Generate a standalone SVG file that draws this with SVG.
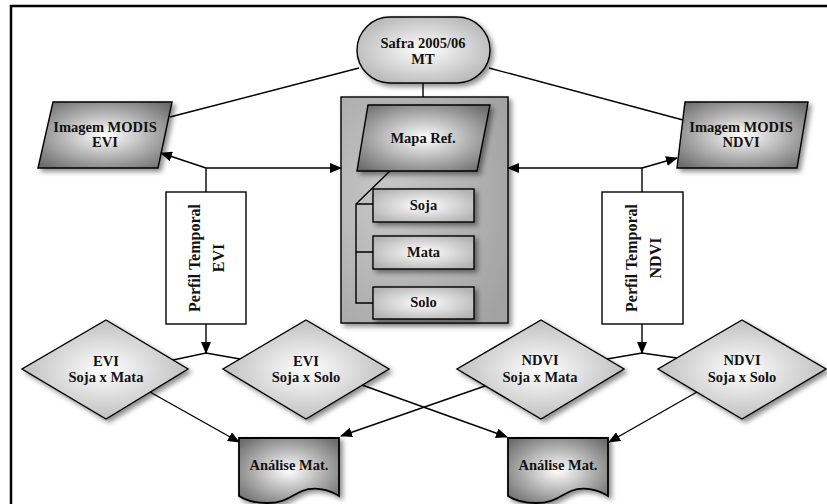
<svg xmlns="http://www.w3.org/2000/svg" width="827" height="504" viewBox="0 0 827 504">
<defs>
<style>
.t{font-family:"Liberation Serif","Times New Roman",serif;font-weight:bold;font-size:14.5px;fill:#111;text-anchor:middle}
.tr{font-family:"Liberation Serif","Times New Roman",serif;font-weight:bold;font-size:16px;fill:#111;text-anchor:middle}
.s{stroke:#000;stroke-width:1.4}
.ln{stroke:#000;stroke-width:1.4;fill:none}
.la{stroke:#000;stroke-width:1.4;fill:none;marker-end:url(#arr)}
</style>
<filter id="sh" x="-20%" y="-20%" width="150%" height="150%">
<feDropShadow dx="3" dy="3" stdDeviation="2.5" flood-color="#000" flood-opacity="0.45"/>
</filter>
<radialGradient id="gDark" cx="50%" cy="50%" r="65%">
<stop offset="0" stop-color="#ffffff"/>
<stop offset="1" stop-color="#6c6c6c"/>
</radialGradient>
<radialGradient id="gLight" cx="50%" cy="50%" r="60%">
<stop offset="0" stop-color="#ffffff"/>
<stop offset="1" stop-color="#b4b4b4"/>
</radialGradient>
<radialGradient id="gGroup" cx="30%" cy="45%" r="80%">
<stop offset="0" stop-color="#c8c8c8"/>
<stop offset="1" stop-color="#a2a2a2"/>
</radialGradient>
<marker id="arr" markerWidth="12" markerHeight="10" refX="11" refY="5" orient="auto" markerUnits="userSpaceOnUse">
<path d="M0,0 L12,5 L0,10 Z" fill="#000"/>
</marker>
</defs>
<rect width="827" height="504" fill="#fff"/>
<rect x="11" y="6" width="840" height="520" fill="none" stroke="#000" stroke-width="2.5"/>

<g id="safra">
<rect x="357" y="17" width="133" height="66" rx="33" ry="33" fill="url(#gLight)" class="s" filter="url(#sh)"/>
<text class="t" x="423" y="48">Safra 2005/06</text>
<text class="t" x="423" y="64">MT</text>
</g>

<g id="imagem-evi">
<path d="M53,102 L172,102 L158,168 L38,168 Z" fill="url(#gDark)" class="s" filter="url(#sh)"/>
<text class="t" x="105" y="132">Imagem MODIS</text>
<text class="t" x="105" y="147">EVI</text>
</g>

<g id="imagem-ndvi">
<path d="M685,102 L808,102 L797,168 L677,168 Z" fill="url(#gDark)" class="s" filter="url(#sh)"/>
<text class="t" x="741" y="132">Imagem MODIS</text>
<text class="t" x="741" y="147">NDVI</text>
</g>

<g id="mapa-ref">
<rect x="341" y="97" width="167" height="226" fill="url(#gGroup)" class="s" filter="url(#sh)"/>
<path d="M368,105 L490,105 L477,171 L357,171 Z" fill="url(#gDark)" class="s" filter="url(#sh)"/>
<text class="t" x="423" y="143">Mapa Ref.</text>
<path class="ln" d="M390,171 L356,204 L356,303 L373,303 M356,204 L373,204 M356,252 L373,252"/>
</g>

<g id="soja">
<rect x="373" y="189" width="101" height="33" fill="url(#gLight)" class="s" filter="url(#sh)"/>
<text class="t" x="423.5" y="210">Soja</text>
</g>
<g id="mata">
<rect x="373" y="236" width="101" height="33" fill="url(#gLight)" class="s" filter="url(#sh)"/>
<text class="t" x="423.5" y="257">Mata</text>
</g>
<g id="solo">
<rect x="373" y="287" width="101" height="32" fill="url(#gLight)" class="s" filter="url(#sh)"/>
<text class="t" x="423.5" y="307">Solo</text>
</g>

<g id="perfil-evi">
<rect x="166" y="192" width="80" height="132" fill="#fff" class="s"/>
<text class="tr" transform="translate(200,258) rotate(-90)" x="0" y="0">Perfil Temporal</text>
<text class="tr" transform="translate(224,258) rotate(-90)" x="0" y="0">EVI</text>
</g>

<g id="perfil-ndvi">
<rect x="602" y="192" width="81" height="132" fill="#fff" class="s"/>
<text class="tr" transform="translate(637,258) rotate(-90)" x="0" y="0">Perfil Temporal</text>
<text class="tr" transform="translate(661,258) rotate(-90)" x="0" y="0">NDVI</text>
</g>

<g id="evi-soja-mata">
<path d="M106,320 L188,369 L106,419 L22,369 Z" fill="url(#gLight)" class="s" filter="url(#sh)"/>
<text class="t" x="106" y="366">EVI</text>
<text class="t" x="106" y="382">Soja x Mata</text>
</g>
<g id="evi-soja-solo">
<path d="M306,320 L389,369 L306,419 L223,369 Z" fill="url(#gLight)" class="s" filter="url(#sh)"/>
<text class="t" x="306" y="366">EVI</text>
<text class="t" x="306" y="382">Soja x Solo</text>
</g>
<g id="ndvi-soja-mata">
<path d="M541,320 L624,369 L541,419 L457,369 Z" fill="url(#gLight)" class="s" filter="url(#sh)"/>
<text class="t" x="540" y="365">NDVI</text>
<text class="t" x="540" y="382">Soja x Mata</text>
</g>
<g id="ndvi-soja-solo">
<path d="M742,320 L826,369 L742,419 L658,369 Z" fill="url(#gLight)" class="s" filter="url(#sh)"/>
<text class="t" x="742" y="365">NDVI</text>
<text class="t" x="742" y="382">Soja x Solo</text>
</g>

<g id="analise-1">
<path d="M239,438 H339 V496 C330,490 315,486 302,491 C290,496 285,503 267,503 C255,503 245,500 239,496 Z" fill="url(#gDark)" stroke="#000" stroke-width="1.8" filter="url(#sh)"/>
<text class="t" x="289" y="470">Análise Mat.</text>
</g>
<g id="analise-2">
<path d="M508,438 H608 V496 C599,490 584,486 571,491 C559,496 554,503 536,503 C524,503 514,500 508,496 Z" fill="url(#gDark)" stroke="#000" stroke-width="1.8" filter="url(#sh)"/>
<text class="t" x="558" y="470">Análise Mat.</text>
</g>

<g id="connectors">
<line class="ln" x1="359" y1="68" x2="170" y2="117"/>
<line class="ln" x1="489" y1="68" x2="683" y2="120"/>
<line class="ln" x1="423" y1="83" x2="423" y2="97"/>
<polyline class="ln" points="206,192 206,168"/>
<line class="la" x1="206" y1="168" x2="161" y2="153"/>
<line class="la" x1="206" y1="168" x2="341" y2="168"/>
<polyline class="ln" points="642,192 642,168"/>
<line class="la" x1="642" y1="168" x2="508" y2="168"/>
<line class="la" x1="642" y1="168" x2="677" y2="158"/>
<line class="la" x1="206" y1="324" x2="206" y2="353"/>
<polyline class="ln" points="173,360 206,353 240,359"/>
<line class="la" x1="642" y1="324" x2="642" y2="353"/>
<polyline class="ln" points="607,359 642,353 677,358"/>
<line class="la" x1="150" y1="392" x2="239" y2="442"/>
<line class="la" x1="362" y1="385" x2="507" y2="437"/>
<line class="la" x1="485" y1="386" x2="341" y2="436"/>
<line class="la" x1="697" y1="392" x2="609" y2="442"/>
</g>
</svg>
